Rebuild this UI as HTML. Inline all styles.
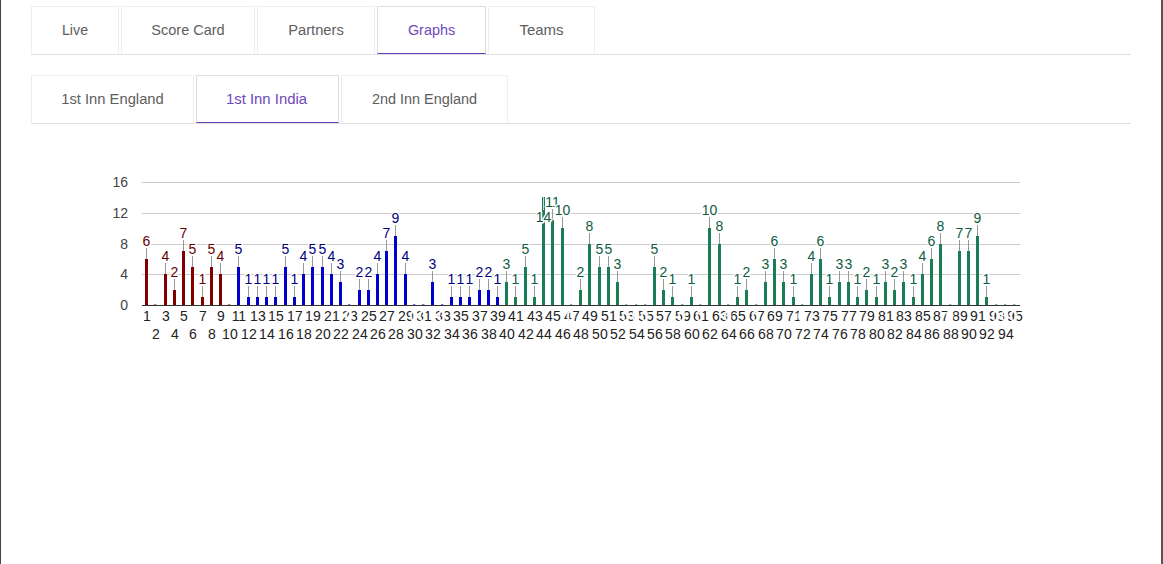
<!DOCTYPE html>
<html><head><meta charset="utf-8"><title>Graphs</title>
<style>
html,body{margin:0;padding:0;background:#fff;}
body{width:1163px;height:564px;position:relative;overflow:hidden;font-family:"Liberation Sans",sans-serif;}
.edgeL{position:absolute;left:0;top:0;width:1px;height:564px;background:#444;}
.edgeR{position:absolute;left:1161px;top:0;width:2px;height:564px;background:#555;}
.nav{position:absolute;left:31px;width:1100px;height:48px;border-bottom:1px solid #dfdfdf;}
.nav1{top:6px;}
.nav2{top:75px;}
.tab{position:absolute;top:0;height:46px;border:1px solid #eeeeee;border-bottom-color:transparent;box-sizing:content-box;color:#5e5e5e;font-size:14.2px;line-height:46px;text-align:center;white-space:nowrap;}
.tab.act{color:#7047bd;border-color:#dddddd;border-bottom:1px solid #6a3fb5;}
</style></head><body>
<div class="edgeL"></div><div class="edgeR"></div>
<div class="nav nav1">
<div class="tab" style="left:0;width:86px;font-size:14.3px">Live</div>
<div class="tab" style="left:90px;width:132px;font-size:14.5px">Score Card</div>
<div class="tab" style="left:226px;width:116px;font-size:14.7px">Partners</div>
<div class="tab act" style="left:346px;width:107px;font-size:14.4px">Graphs</div>
<div class="tab" style="left:457px;width:105px;font-size:15px">Teams</div>
</div>
<div class="nav nav2">
<div class="tab" style="left:0;width:161px;font-size:14.75px">1st Inn England</div>
<div class="tab act" style="left:165px;width:139px;padding-right:2px;font-size:14.9px">1st Inn India</div>
<div class="tab" style="left:310px;width:165px;font-size:14.45px">2nd Inn England</div>
</div>
<svg width="1163" height="564" viewBox="0 0 1163 564" style="position:absolute;left:0;top:0" font-family="Liberation Sans, sans-serif" font-size="14">
<rect x="142" y="274" width="878" height="1" fill="#cccccc"/>
<rect x="142" y="244" width="878" height="1" fill="#cccccc"/>
<rect x="142" y="213" width="878" height="1" fill="#cccccc"/>
<rect x="142" y="182" width="878" height="1" fill="#cccccc"/>
<rect x="145" y="259" width="3" height="46" fill="#800000"/>
<rect x="154" y="304" width="2.4" height="1" fill="#800000" opacity="0.55"/>
<rect x="164" y="274" width="3" height="31" fill="#800000"/>
<rect x="173" y="290" width="3" height="15" fill="#800000"/>
<rect x="182" y="251" width="3" height="54" fill="#800000"/>
<rect x="191" y="267" width="3" height="38" fill="#800000"/>
<rect x="201" y="297" width="3" height="8" fill="#800000"/>
<rect x="210" y="267" width="3" height="38" fill="#800000"/>
<rect x="219" y="274" width="3" height="31" fill="#800000"/>
<rect x="228" y="304" width="2.4" height="1" fill="#800000" opacity="0.55"/>
<rect x="237" y="267" width="3" height="38" fill="#0000cd"/>
<rect x="247" y="297" width="3" height="8" fill="#0000cd"/>
<rect x="256" y="297" width="3" height="8" fill="#0000cd"/>
<rect x="265" y="297" width="3" height="8" fill="#0000cd"/>
<rect x="274" y="297" width="3" height="8" fill="#0000cd"/>
<rect x="284" y="267" width="3" height="38" fill="#0000cd"/>
<rect x="293" y="297" width="3" height="8" fill="#0000cd"/>
<rect x="302" y="274" width="3" height="31" fill="#0000cd"/>
<rect x="311" y="267" width="3" height="38" fill="#0000cd"/>
<rect x="321" y="267" width="3" height="38" fill="#0000cd"/>
<rect x="330" y="274" width="3" height="31" fill="#0000cd"/>
<rect x="339" y="282" width="3" height="23" fill="#0000cd"/>
<rect x="348" y="304" width="2.4" height="1" fill="#0000cd" opacity="0.55"/>
<rect x="358" y="290" width="3" height="15" fill="#0000cd"/>
<rect x="367" y="290" width="3" height="15" fill="#0000cd"/>
<rect x="376" y="274" width="3" height="31" fill="#0000cd"/>
<rect x="385" y="251" width="3" height="54" fill="#0000cd"/>
<rect x="394" y="236" width="3" height="69" fill="#0000cd"/>
<rect x="404" y="274" width="3" height="31" fill="#0000cd"/>
<rect x="413" y="304" width="2.4" height="1" fill="#0000cd" opacity="0.55"/>
<rect x="422" y="304" width="2.4" height="1" fill="#0000cd" opacity="0.55"/>
<rect x="431" y="282" width="3" height="23" fill="#0000cd"/>
<rect x="441" y="304" width="2.4" height="1" fill="#0000cd" opacity="0.55"/>
<rect x="450" y="297" width="3" height="8" fill="#0000cd"/>
<rect x="459" y="297" width="3" height="8" fill="#0000cd"/>
<rect x="468" y="297" width="3" height="8" fill="#0000cd"/>
<rect x="478" y="290" width="3" height="15" fill="#0000cd"/>
<rect x="487" y="290" width="3" height="15" fill="#0000cd"/>
<rect x="496" y="297" width="3" height="8" fill="#0000cd"/>
<rect x="505" y="282" width="3" height="23" fill="#1a7d55"/>
<rect x="514" y="297" width="3" height="8" fill="#1a7d55"/>
<rect x="524" y="267" width="3" height="38" fill="#1a7d55"/>
<rect x="533" y="297" width="3" height="8" fill="#1a7d55"/>
<rect x="542" y="197" width="3" height="108" fill="#1a7d55"/>
<rect x="551" y="220" width="3" height="85" fill="#1a7d55"/>
<rect x="561" y="228" width="3" height="77" fill="#1a7d55"/>
<rect x="570" y="304" width="2.4" height="1" fill="#1a7d55" opacity="0.55"/>
<rect x="579" y="290" width="3" height="15" fill="#1a7d55"/>
<rect x="588" y="244" width="3" height="61" fill="#1a7d55"/>
<rect x="598" y="267" width="3" height="38" fill="#1a7d55"/>
<rect x="607" y="267" width="3" height="38" fill="#1a7d55"/>
<rect x="616" y="282" width="3" height="23" fill="#1a7d55"/>
<rect x="625" y="304" width="2.4" height="1" fill="#1a7d55" opacity="0.55"/>
<rect x="635" y="304" width="2.4" height="1" fill="#1a7d55" opacity="0.55"/>
<rect x="644" y="304" width="2.4" height="1" fill="#1a7d55" opacity="0.55"/>
<rect x="653" y="267" width="3" height="38" fill="#1a7d55"/>
<rect x="662" y="290" width="3" height="15" fill="#1a7d55"/>
<rect x="671" y="297" width="3" height="8" fill="#1a7d55"/>
<rect x="681" y="304" width="2.4" height="1" fill="#1a7d55" opacity="0.55"/>
<rect x="690" y="297" width="3" height="8" fill="#1a7d55"/>
<rect x="699" y="304" width="2.4" height="1" fill="#1a7d55" opacity="0.55"/>
<rect x="708" y="228" width="3" height="77" fill="#1a7d55"/>
<rect x="718" y="244" width="3" height="61" fill="#1a7d55"/>
<rect x="727" y="304" width="2.4" height="1" fill="#1a7d55" opacity="0.55"/>
<rect x="736" y="297" width="3" height="8" fill="#1a7d55"/>
<rect x="745" y="290" width="3" height="15" fill="#1a7d55"/>
<rect x="755" y="304" width="2.4" height="1" fill="#1a7d55" opacity="0.55"/>
<rect x="764" y="282" width="3" height="23" fill="#1a7d55"/>
<rect x="773" y="259" width="3" height="46" fill="#1a7d55"/>
<rect x="782" y="282" width="3" height="23" fill="#1a7d55"/>
<rect x="792" y="297" width="3" height="8" fill="#1a7d55"/>
<rect x="801" y="304" width="2.4" height="1" fill="#1a7d55" opacity="0.55"/>
<rect x="810" y="274" width="3" height="31" fill="#1a7d55"/>
<rect x="819" y="259" width="3" height="46" fill="#1a7d55"/>
<rect x="828" y="297" width="3" height="8" fill="#1a7d55"/>
<rect x="838" y="282" width="3" height="23" fill="#1a7d55"/>
<rect x="847" y="282" width="3" height="23" fill="#1a7d55"/>
<rect x="856" y="297" width="3" height="8" fill="#1a7d55"/>
<rect x="865" y="290" width="3" height="15" fill="#1a7d55"/>
<rect x="875" y="297" width="3" height="8" fill="#1a7d55"/>
<rect x="884" y="282" width="3" height="23" fill="#1a7d55"/>
<rect x="893" y="290" width="3" height="15" fill="#1a7d55"/>
<rect x="902" y="282" width="3" height="23" fill="#1a7d55"/>
<rect x="912" y="297" width="3" height="8" fill="#1a7d55"/>
<rect x="921" y="274" width="3" height="31" fill="#1a7d55"/>
<rect x="930" y="259" width="3" height="46" fill="#1a7d55"/>
<rect x="939" y="244" width="3" height="61" fill="#1a7d55"/>
<rect x="949" y="304" width="2.4" height="1" fill="#1a7d55" opacity="0.55"/>
<rect x="958" y="251" width="3" height="54" fill="#1a7d55"/>
<rect x="967" y="251" width="3" height="54" fill="#1a7d55"/>
<rect x="976" y="236" width="3" height="69" fill="#1a7d55"/>
<rect x="985" y="297" width="3" height="8" fill="#1a7d55"/>
<rect x="995" y="304" width="2.4" height="1" fill="#1a7d55" opacity="0.55"/>
<rect x="1004" y="304" width="2.4" height="1" fill="#1a7d55" opacity="0.55"/>
<rect x="1013" y="304" width="2.4" height="1" fill="#1a7d55" opacity="0.55"/>
<rect x="142" y="305" width="878" height="1" fill="#333333"/>
<rect x="146" y="248" width="1" height="11" fill="#999999"/>
<rect x="165" y="263" width="1" height="11" fill="#999999"/>
<rect x="174" y="279" width="1" height="11" fill="#999999"/>
<rect x="183" y="240" width="1" height="11" fill="#999999"/>
<rect x="192" y="256" width="1" height="11" fill="#999999"/>
<rect x="202" y="286" width="1" height="11" fill="#999999"/>
<rect x="211" y="256" width="1" height="11" fill="#999999"/>
<rect x="220" y="263" width="1" height="11" fill="#999999"/>
<rect x="238" y="256" width="1" height="11" fill="#999999"/>
<rect x="248" y="286" width="1" height="11" fill="#999999"/>
<rect x="257" y="286" width="1" height="11" fill="#999999"/>
<rect x="266" y="286" width="1" height="11" fill="#999999"/>
<rect x="275" y="286" width="1" height="11" fill="#999999"/>
<rect x="285" y="256" width="1" height="11" fill="#999999"/>
<rect x="294" y="286" width="1" height="11" fill="#999999"/>
<rect x="303" y="263" width="1" height="11" fill="#999999"/>
<rect x="312" y="256" width="1" height="11" fill="#999999"/>
<rect x="322" y="256" width="1" height="11" fill="#999999"/>
<rect x="331" y="263" width="1" height="11" fill="#999999"/>
<rect x="340" y="271" width="1" height="11" fill="#999999"/>
<rect x="359" y="279" width="1" height="11" fill="#999999"/>
<rect x="368" y="279" width="1" height="11" fill="#999999"/>
<rect x="377" y="263" width="1" height="11" fill="#999999"/>
<rect x="386" y="240" width="1" height="11" fill="#999999"/>
<rect x="395" y="225" width="1" height="11" fill="#999999"/>
<rect x="405" y="263" width="1" height="11" fill="#999999"/>
<rect x="432" y="271" width="1" height="11" fill="#999999"/>
<rect x="451" y="286" width="1" height="11" fill="#999999"/>
<rect x="460" y="286" width="1" height="11" fill="#999999"/>
<rect x="469" y="286" width="1" height="11" fill="#999999"/>
<rect x="479" y="279" width="1" height="11" fill="#999999"/>
<rect x="488" y="279" width="1" height="11" fill="#999999"/>
<rect x="497" y="286" width="1" height="11" fill="#999999"/>
<rect x="506" y="271" width="1" height="11" fill="#999999"/>
<rect x="515" y="286" width="1" height="11" fill="#999999"/>
<rect x="525" y="256" width="1" height="11" fill="#999999"/>
<rect x="534" y="286" width="1" height="11" fill="#999999"/>
<rect x="543" y="197" width="1" height="13" fill="#bfe0d0"/>
<rect x="552" y="209" width="1" height="11" fill="#999999"/>
<rect x="562" y="217" width="1" height="11" fill="#999999"/>
<rect x="580" y="279" width="1" height="11" fill="#999999"/>
<rect x="589" y="233" width="1" height="11" fill="#999999"/>
<rect x="599" y="256" width="1" height="11" fill="#999999"/>
<rect x="608" y="256" width="1" height="11" fill="#999999"/>
<rect x="617" y="271" width="1" height="11" fill="#999999"/>
<rect x="654" y="256" width="1" height="11" fill="#999999"/>
<rect x="663" y="279" width="1" height="11" fill="#999999"/>
<rect x="672" y="286" width="1" height="11" fill="#999999"/>
<rect x="691" y="286" width="1" height="11" fill="#999999"/>
<rect x="709" y="217" width="1" height="11" fill="#999999"/>
<rect x="719" y="233" width="1" height="11" fill="#999999"/>
<rect x="737" y="286" width="1" height="11" fill="#999999"/>
<rect x="746" y="279" width="1" height="11" fill="#999999"/>
<rect x="765" y="271" width="1" height="11" fill="#999999"/>
<rect x="774" y="248" width="1" height="11" fill="#999999"/>
<rect x="783" y="271" width="1" height="11" fill="#999999"/>
<rect x="793" y="286" width="1" height="11" fill="#999999"/>
<rect x="811" y="263" width="1" height="11" fill="#999999"/>
<rect x="820" y="248" width="1" height="11" fill="#999999"/>
<rect x="829" y="286" width="1" height="11" fill="#999999"/>
<rect x="839" y="271" width="1" height="11" fill="#999999"/>
<rect x="848" y="271" width="1" height="11" fill="#999999"/>
<rect x="857" y="286" width="1" height="11" fill="#999999"/>
<rect x="866" y="279" width="1" height="11" fill="#999999"/>
<rect x="876" y="286" width="1" height="11" fill="#999999"/>
<rect x="885" y="271" width="1" height="11" fill="#999999"/>
<rect x="894" y="279" width="1" height="11" fill="#999999"/>
<rect x="903" y="271" width="1" height="11" fill="#999999"/>
<rect x="913" y="286" width="1" height="11" fill="#999999"/>
<rect x="922" y="263" width="1" height="11" fill="#999999"/>
<rect x="931" y="248" width="1" height="11" fill="#999999"/>
<rect x="940" y="233" width="1" height="11" fill="#999999"/>
<rect x="959" y="240" width="1" height="11" fill="#999999"/>
<rect x="968" y="240" width="1" height="11" fill="#999999"/>
<rect x="977" y="225" width="1" height="11" fill="#999999"/>
<rect x="986" y="286" width="1" height="11" fill="#999999"/>
<text x="146.5" y="246" text-anchor="middle" fill="#660000" stroke="#fff" stroke-width="3" paint-order="stroke" stroke-linejoin="round">6</text>
<text x="165.5" y="261" text-anchor="middle" fill="#660000" stroke="#fff" stroke-width="3" paint-order="stroke" stroke-linejoin="round">4</text>
<text x="174.5" y="277" text-anchor="middle" fill="#660000" stroke="#fff" stroke-width="3" paint-order="stroke" stroke-linejoin="round">2</text>
<text x="183.5" y="238" text-anchor="middle" fill="#660000" stroke="#fff" stroke-width="3" paint-order="stroke" stroke-linejoin="round">7</text>
<text x="192.5" y="254" text-anchor="middle" fill="#660000" stroke="#fff" stroke-width="3" paint-order="stroke" stroke-linejoin="round">5</text>
<text x="202.5" y="284" text-anchor="middle" fill="#660000" stroke="#fff" stroke-width="3" paint-order="stroke" stroke-linejoin="round">1</text>
<text x="211.5" y="254" text-anchor="middle" fill="#660000" stroke="#fff" stroke-width="3" paint-order="stroke" stroke-linejoin="round">5</text>
<text x="220.5" y="261" text-anchor="middle" fill="#660000" stroke="#fff" stroke-width="3" paint-order="stroke" stroke-linejoin="round">4</text>
<text x="238.5" y="254" text-anchor="middle" fill="#000080" stroke="#fff" stroke-width="3" paint-order="stroke" stroke-linejoin="round">5</text>
<text x="248.5" y="284" text-anchor="middle" fill="#000080" stroke="#fff" stroke-width="3" paint-order="stroke" stroke-linejoin="round">1</text>
<text x="257.5" y="284" text-anchor="middle" fill="#000080" stroke="#fff" stroke-width="3" paint-order="stroke" stroke-linejoin="round">1</text>
<text x="266.5" y="284" text-anchor="middle" fill="#000080" stroke="#fff" stroke-width="3" paint-order="stroke" stroke-linejoin="round">1</text>
<text x="275.5" y="284" text-anchor="middle" fill="#000080" stroke="#fff" stroke-width="3" paint-order="stroke" stroke-linejoin="round">1</text>
<text x="285.5" y="254" text-anchor="middle" fill="#000080" stroke="#fff" stroke-width="3" paint-order="stroke" stroke-linejoin="round">5</text>
<text x="294.5" y="284" text-anchor="middle" fill="#000080" stroke="#fff" stroke-width="3" paint-order="stroke" stroke-linejoin="round">1</text>
<text x="303.5" y="261" text-anchor="middle" fill="#000080" stroke="#fff" stroke-width="3" paint-order="stroke" stroke-linejoin="round">4</text>
<text x="312.5" y="254" text-anchor="middle" fill="#000080" stroke="#fff" stroke-width="3" paint-order="stroke" stroke-linejoin="round">5</text>
<text x="322.5" y="254" text-anchor="middle" fill="#000080" stroke="#fff" stroke-width="3" paint-order="stroke" stroke-linejoin="round">5</text>
<text x="331.5" y="261" text-anchor="middle" fill="#000080" stroke="#fff" stroke-width="3" paint-order="stroke" stroke-linejoin="round">4</text>
<text x="340.5" y="269" text-anchor="middle" fill="#000080" stroke="#fff" stroke-width="3" paint-order="stroke" stroke-linejoin="round">3</text>
<text x="359.5" y="277" text-anchor="middle" fill="#000080" stroke="#fff" stroke-width="3" paint-order="stroke" stroke-linejoin="round">2</text>
<text x="368.5" y="277" text-anchor="middle" fill="#000080" stroke="#fff" stroke-width="3" paint-order="stroke" stroke-linejoin="round">2</text>
<text x="377.5" y="261" text-anchor="middle" fill="#000080" stroke="#fff" stroke-width="3" paint-order="stroke" stroke-linejoin="round">4</text>
<text x="386.5" y="238" text-anchor="middle" fill="#000080" stroke="#fff" stroke-width="3" paint-order="stroke" stroke-linejoin="round">7</text>
<text x="395.5" y="223" text-anchor="middle" fill="#000080" stroke="#fff" stroke-width="3" paint-order="stroke" stroke-linejoin="round">9</text>
<text x="405.5" y="261" text-anchor="middle" fill="#000080" stroke="#fff" stroke-width="3" paint-order="stroke" stroke-linejoin="round">4</text>
<text x="432.5" y="269" text-anchor="middle" fill="#000080" stroke="#fff" stroke-width="3" paint-order="stroke" stroke-linejoin="round">3</text>
<text x="451.5" y="284" text-anchor="middle" fill="#000080" stroke="#fff" stroke-width="3" paint-order="stroke" stroke-linejoin="round">1</text>
<text x="460.5" y="284" text-anchor="middle" fill="#000080" stroke="#fff" stroke-width="3" paint-order="stroke" stroke-linejoin="round">1</text>
<text x="469.5" y="284" text-anchor="middle" fill="#000080" stroke="#fff" stroke-width="3" paint-order="stroke" stroke-linejoin="round">1</text>
<text x="479.5" y="277" text-anchor="middle" fill="#000080" stroke="#fff" stroke-width="3" paint-order="stroke" stroke-linejoin="round">2</text>
<text x="488.5" y="277" text-anchor="middle" fill="#000080" stroke="#fff" stroke-width="3" paint-order="stroke" stroke-linejoin="round">2</text>
<text x="497.5" y="284" text-anchor="middle" fill="#000080" stroke="#fff" stroke-width="3" paint-order="stroke" stroke-linejoin="round">1</text>
<text x="506.5" y="269" text-anchor="middle" fill="#0f5c42" stroke="#fff" stroke-width="3" paint-order="stroke" stroke-linejoin="round">3</text>
<text x="515.5" y="284" text-anchor="middle" fill="#0f5c42" stroke="#fff" stroke-width="3" paint-order="stroke" stroke-linejoin="round">1</text>
<text x="525.5" y="254" text-anchor="middle" fill="#0f5c42" stroke="#fff" stroke-width="3" paint-order="stroke" stroke-linejoin="round">5</text>
<text x="534.5" y="284" text-anchor="middle" fill="#0f5c42" stroke="#fff" stroke-width="3" paint-order="stroke" stroke-linejoin="round">1</text>
<text x="543.5" y="222" text-anchor="middle" fill="#0f5c42" stroke="#fff" stroke-width="3" paint-order="stroke" stroke-linejoin="round">14</text>
<text x="552.5" y="207" text-anchor="middle" fill="#0f5c42" stroke="#fff" stroke-width="3" paint-order="stroke" stroke-linejoin="round">11</text>
<text x="562.5" y="215" text-anchor="middle" fill="#0f5c42" stroke="#fff" stroke-width="3" paint-order="stroke" stroke-linejoin="round">10</text>
<text x="580.5" y="277" text-anchor="middle" fill="#0f5c42" stroke="#fff" stroke-width="3" paint-order="stroke" stroke-linejoin="round">2</text>
<text x="589.5" y="231" text-anchor="middle" fill="#0f5c42" stroke="#fff" stroke-width="3" paint-order="stroke" stroke-linejoin="round">8</text>
<text x="599.5" y="254" text-anchor="middle" fill="#0f5c42" stroke="#fff" stroke-width="3" paint-order="stroke" stroke-linejoin="round">5</text>
<text x="608.5" y="254" text-anchor="middle" fill="#0f5c42" stroke="#fff" stroke-width="3" paint-order="stroke" stroke-linejoin="round">5</text>
<text x="617.5" y="269" text-anchor="middle" fill="#0f5c42" stroke="#fff" stroke-width="3" paint-order="stroke" stroke-linejoin="round">3</text>
<text x="654.5" y="254" text-anchor="middle" fill="#0f5c42" stroke="#fff" stroke-width="3" paint-order="stroke" stroke-linejoin="round">5</text>
<text x="663.5" y="277" text-anchor="middle" fill="#0f5c42" stroke="#fff" stroke-width="3" paint-order="stroke" stroke-linejoin="round">2</text>
<text x="672.5" y="284" text-anchor="middle" fill="#0f5c42" stroke="#fff" stroke-width="3" paint-order="stroke" stroke-linejoin="round">1</text>
<text x="691.5" y="284" text-anchor="middle" fill="#0f5c42" stroke="#fff" stroke-width="3" paint-order="stroke" stroke-linejoin="round">1</text>
<text x="709.5" y="215" text-anchor="middle" fill="#0f5c42" stroke="#fff" stroke-width="3" paint-order="stroke" stroke-linejoin="round">10</text>
<text x="719.5" y="231" text-anchor="middle" fill="#0f5c42" stroke="#fff" stroke-width="3" paint-order="stroke" stroke-linejoin="round">8</text>
<text x="737.5" y="284" text-anchor="middle" fill="#0f5c42" stroke="#fff" stroke-width="3" paint-order="stroke" stroke-linejoin="round">1</text>
<text x="746.5" y="277" text-anchor="middle" fill="#0f5c42" stroke="#fff" stroke-width="3" paint-order="stroke" stroke-linejoin="round">2</text>
<text x="765.5" y="269" text-anchor="middle" fill="#0f5c42" stroke="#fff" stroke-width="3" paint-order="stroke" stroke-linejoin="round">3</text>
<text x="774.5" y="246" text-anchor="middle" fill="#0f5c42" stroke="#fff" stroke-width="3" paint-order="stroke" stroke-linejoin="round">6</text>
<text x="783.5" y="269" text-anchor="middle" fill="#0f5c42" stroke="#fff" stroke-width="3" paint-order="stroke" stroke-linejoin="round">3</text>
<text x="793.5" y="284" text-anchor="middle" fill="#0f5c42" stroke="#fff" stroke-width="3" paint-order="stroke" stroke-linejoin="round">1</text>
<text x="811.5" y="261" text-anchor="middle" fill="#0f5c42" stroke="#fff" stroke-width="3" paint-order="stroke" stroke-linejoin="round">4</text>
<text x="820.5" y="246" text-anchor="middle" fill="#0f5c42" stroke="#fff" stroke-width="3" paint-order="stroke" stroke-linejoin="round">6</text>
<text x="829.5" y="284" text-anchor="middle" fill="#0f5c42" stroke="#fff" stroke-width="3" paint-order="stroke" stroke-linejoin="round">1</text>
<text x="839.5" y="269" text-anchor="middle" fill="#0f5c42" stroke="#fff" stroke-width="3" paint-order="stroke" stroke-linejoin="round">3</text>
<text x="848.5" y="269" text-anchor="middle" fill="#0f5c42" stroke="#fff" stroke-width="3" paint-order="stroke" stroke-linejoin="round">3</text>
<text x="857.5" y="284" text-anchor="middle" fill="#0f5c42" stroke="#fff" stroke-width="3" paint-order="stroke" stroke-linejoin="round">1</text>
<text x="866.5" y="277" text-anchor="middle" fill="#0f5c42" stroke="#fff" stroke-width="3" paint-order="stroke" stroke-linejoin="round">2</text>
<text x="876.5" y="284" text-anchor="middle" fill="#0f5c42" stroke="#fff" stroke-width="3" paint-order="stroke" stroke-linejoin="round">1</text>
<text x="885.5" y="269" text-anchor="middle" fill="#0f5c42" stroke="#fff" stroke-width="3" paint-order="stroke" stroke-linejoin="round">3</text>
<text x="894.5" y="277" text-anchor="middle" fill="#0f5c42" stroke="#fff" stroke-width="3" paint-order="stroke" stroke-linejoin="round">2</text>
<text x="903.5" y="269" text-anchor="middle" fill="#0f5c42" stroke="#fff" stroke-width="3" paint-order="stroke" stroke-linejoin="round">3</text>
<text x="913.5" y="284" text-anchor="middle" fill="#0f5c42" stroke="#fff" stroke-width="3" paint-order="stroke" stroke-linejoin="round">1</text>
<text x="922.5" y="261" text-anchor="middle" fill="#0f5c42" stroke="#fff" stroke-width="3" paint-order="stroke" stroke-linejoin="round">4</text>
<text x="931.5" y="246" text-anchor="middle" fill="#0f5c42" stroke="#fff" stroke-width="3" paint-order="stroke" stroke-linejoin="round">6</text>
<text x="940.5" y="231" text-anchor="middle" fill="#0f5c42" stroke="#fff" stroke-width="3" paint-order="stroke" stroke-linejoin="round">8</text>
<text x="959.5" y="238" text-anchor="middle" fill="#0f5c42" stroke="#fff" stroke-width="3" paint-order="stroke" stroke-linejoin="round">7</text>
<text x="968.5" y="238" text-anchor="middle" fill="#0f5c42" stroke="#fff" stroke-width="3" paint-order="stroke" stroke-linejoin="round">7</text>
<text x="977.5" y="223" text-anchor="middle" fill="#0f5c42" stroke="#fff" stroke-width="3" paint-order="stroke" stroke-linejoin="round">9</text>
<text x="986.5" y="284" text-anchor="middle" fill="#0f5c42" stroke="#fff" stroke-width="3" paint-order="stroke" stroke-linejoin="round">1</text>
<text x="128" y="310" text-anchor="end" fill="#444444">0</text>
<text x="128" y="279" text-anchor="end" fill="#444444">4</text>
<text x="128" y="249" text-anchor="end" fill="#444444">8</text>
<text x="128" y="218" text-anchor="end" fill="#444444">12</text>
<text x="128" y="187" text-anchor="end" fill="#444444">16</text>
<text x="146.9" y="321" text-anchor="middle" fill="#222222">1</text>
<text x="155.9" y="339" text-anchor="middle" fill="#222222">2</text>
<text x="165.9" y="321" text-anchor="middle" fill="#222222">3</text>
<text x="174.9" y="339" text-anchor="middle" fill="#222222">4</text>
<text x="183.9" y="321" text-anchor="middle" fill="#222222">5</text>
<text x="192.9" y="339" text-anchor="middle" fill="#222222">6</text>
<text x="202.9" y="321" text-anchor="middle" fill="#222222">7</text>
<text x="211.9" y="339" text-anchor="middle" fill="#222222">8</text>
<text x="220.9" y="321" text-anchor="middle" fill="#222222">9</text>
<text x="229.9" y="339" text-anchor="middle" fill="#222222">10</text>
<text x="238.9" y="321" text-anchor="middle" fill="#222222">11</text>
<text x="248.9" y="339" text-anchor="middle" fill="#222222">12</text>
<text x="257.9" y="321" text-anchor="middle" fill="#222222">13</text>
<text x="266.9" y="339" text-anchor="middle" fill="#222222">14</text>
<text x="275.9" y="321" text-anchor="middle" fill="#222222">15</text>
<text x="285.9" y="339" text-anchor="middle" fill="#222222">16</text>
<text x="294.9" y="321" text-anchor="middle" fill="#222222">17</text>
<text x="303.9" y="339" text-anchor="middle" fill="#222222">18</text>
<text x="312.9" y="321" text-anchor="middle" fill="#222222">19</text>
<text x="322.9" y="339" text-anchor="middle" fill="#222222">20</text>
<text x="331.9" y="321" text-anchor="middle" fill="#222222">21</text>
<text x="340.9" y="339" text-anchor="middle" fill="#222222">22</text>
<text x="349.9" y="321" text-anchor="middle" fill="#222222">23</text>
<text x="359.9" y="339" text-anchor="middle" fill="#222222">24</text>
<text x="368.9" y="321" text-anchor="middle" fill="#222222">25</text>
<text x="377.9" y="339" text-anchor="middle" fill="#222222">26</text>
<text x="386.9" y="321" text-anchor="middle" fill="#222222">27</text>
<text x="395.9" y="339" text-anchor="middle" fill="#222222">28</text>
<text x="405.9" y="321" text-anchor="middle" fill="#222222">29</text>
<text x="414.9" y="339" text-anchor="middle" fill="#222222">30</text>
<text x="423.9" y="321" text-anchor="middle" fill="#222222">31</text>
<text x="432.9" y="339" text-anchor="middle" fill="#222222">32</text>
<text x="442.9" y="321" text-anchor="middle" fill="#222222">33</text>
<text x="451.9" y="339" text-anchor="middle" fill="#222222">34</text>
<text x="460.9" y="321" text-anchor="middle" fill="#222222">35</text>
<text x="469.9" y="339" text-anchor="middle" fill="#222222">36</text>
<text x="479.9" y="321" text-anchor="middle" fill="#222222">37</text>
<text x="488.9" y="339" text-anchor="middle" fill="#222222">38</text>
<text x="497.9" y="321" text-anchor="middle" fill="#222222">39</text>
<text x="506.9" y="339" text-anchor="middle" fill="#222222">40</text>
<text x="515.9" y="321" text-anchor="middle" fill="#222222">41</text>
<text x="525.9" y="339" text-anchor="middle" fill="#222222">42</text>
<text x="534.9" y="321" text-anchor="middle" fill="#222222">43</text>
<text x="543.9" y="339" text-anchor="middle" fill="#222222">44</text>
<text x="552.9" y="321" text-anchor="middle" fill="#222222">45</text>
<text x="562.9" y="339" text-anchor="middle" fill="#222222">46</text>
<text x="571.9" y="321" text-anchor="middle" fill="#222222">47</text>
<text x="580.9" y="339" text-anchor="middle" fill="#222222">48</text>
<text x="589.9" y="321" text-anchor="middle" fill="#222222">49</text>
<text x="599.9" y="339" text-anchor="middle" fill="#222222">50</text>
<text x="608.9" y="321" text-anchor="middle" fill="#222222">51</text>
<text x="617.9" y="339" text-anchor="middle" fill="#222222">52</text>
<text x="626.9" y="321" text-anchor="middle" fill="#222222">53</text>
<text x="636.9" y="339" text-anchor="middle" fill="#222222">54</text>
<text x="645.9" y="321" text-anchor="middle" fill="#222222">55</text>
<text x="654.9" y="339" text-anchor="middle" fill="#222222">56</text>
<text x="663.9" y="321" text-anchor="middle" fill="#222222">57</text>
<text x="672.9" y="339" text-anchor="middle" fill="#222222">58</text>
<text x="682.9" y="321" text-anchor="middle" fill="#222222">59</text>
<text x="691.9" y="339" text-anchor="middle" fill="#222222">60</text>
<text x="700.9" y="321" text-anchor="middle" fill="#222222">61</text>
<text x="709.9" y="339" text-anchor="middle" fill="#222222">62</text>
<text x="719.9" y="321" text-anchor="middle" fill="#222222">63</text>
<text x="728.9" y="339" text-anchor="middle" fill="#222222">64</text>
<text x="737.9" y="321" text-anchor="middle" fill="#222222">65</text>
<text x="746.9" y="339" text-anchor="middle" fill="#222222">66</text>
<text x="756.9" y="321" text-anchor="middle" fill="#222222">67</text>
<text x="765.9" y="339" text-anchor="middle" fill="#222222">68</text>
<text x="774.9" y="321" text-anchor="middle" fill="#222222">69</text>
<text x="783.9" y="339" text-anchor="middle" fill="#222222">70</text>
<text x="793.9" y="321" text-anchor="middle" fill="#222222">71</text>
<text x="802.9" y="339" text-anchor="middle" fill="#222222">72</text>
<text x="811.9" y="321" text-anchor="middle" fill="#222222">73</text>
<text x="820.9" y="339" text-anchor="middle" fill="#222222">74</text>
<text x="829.9" y="321" text-anchor="middle" fill="#222222">75</text>
<text x="839.9" y="339" text-anchor="middle" fill="#222222">76</text>
<text x="848.9" y="321" text-anchor="middle" fill="#222222">77</text>
<text x="857.9" y="339" text-anchor="middle" fill="#222222">78</text>
<text x="866.9" y="321" text-anchor="middle" fill="#222222">79</text>
<text x="876.9" y="339" text-anchor="middle" fill="#222222">80</text>
<text x="885.9" y="321" text-anchor="middle" fill="#222222">81</text>
<text x="894.9" y="339" text-anchor="middle" fill="#222222">82</text>
<text x="903.9" y="321" text-anchor="middle" fill="#222222">83</text>
<text x="913.9" y="339" text-anchor="middle" fill="#222222">84</text>
<text x="922.9" y="321" text-anchor="middle" fill="#222222">85</text>
<text x="931.9" y="339" text-anchor="middle" fill="#222222">86</text>
<text x="940.9" y="321" text-anchor="middle" fill="#222222">87</text>
<text x="950.9" y="339" text-anchor="middle" fill="#222222">88</text>
<text x="959.9" y="321" text-anchor="middle" fill="#222222">89</text>
<text x="968.9" y="339" text-anchor="middle" fill="#222222">90</text>
<text x="977.9" y="321" text-anchor="middle" fill="#222222">91</text>
<text x="986.9" y="339" text-anchor="middle" fill="#222222">92</text>
<text x="996.9" y="321" text-anchor="middle" fill="#222222">93</text>
<text x="1005.9" y="339" text-anchor="middle" fill="#222222">94</text>
<text x="1014.9" y="321" text-anchor="middle" fill="#222222">95</text>
<text x="154.6" y="321" text-anchor="middle" fill="#fff" stroke="#fff" stroke-width="0.5">0</text>
<text x="228.6" y="321" text-anchor="middle" fill="#fff" stroke="#fff" stroke-width="0.5">0</text>
<text x="348.6" y="321" text-anchor="middle" fill="#fff" stroke="#fff" stroke-width="0.5">0</text>
<text x="413.6" y="321" text-anchor="middle" fill="#fff" stroke="#fff" stroke-width="0.5">0</text>
<text x="422.6" y="321" text-anchor="middle" fill="#fff" stroke="#fff" stroke-width="0.5">0</text>
<text x="441.6" y="321" text-anchor="middle" fill="#fff" stroke="#fff" stroke-width="0.5">0</text>
<text x="570.6" y="321" text-anchor="middle" fill="#fff" stroke="#fff" stroke-width="0.5">0</text>
<text x="625.6" y="321" text-anchor="middle" fill="#fff" stroke="#fff" stroke-width="0.5">0</text>
<text x="635.6" y="321" text-anchor="middle" fill="#fff" stroke="#fff" stroke-width="0.5">0</text>
<text x="644.6" y="321" text-anchor="middle" fill="#fff" stroke="#fff" stroke-width="0.5">0</text>
<text x="681.6" y="321" text-anchor="middle" fill="#fff" stroke="#fff" stroke-width="0.5">0</text>
<text x="699.6" y="321" text-anchor="middle" fill="#fff" stroke="#fff" stroke-width="0.5">0</text>
<text x="727.6" y="321" text-anchor="middle" fill="#fff" stroke="#fff" stroke-width="0.5">0</text>
<text x="755.6" y="321" text-anchor="middle" fill="#fff" stroke="#fff" stroke-width="0.5">0</text>
<text x="801.6" y="321" text-anchor="middle" fill="#fff" stroke="#fff" stroke-width="0.5">0</text>
<text x="949.6" y="321" text-anchor="middle" fill="#fff" stroke="#fff" stroke-width="0.5">0</text>
<text x="995.6" y="321" text-anchor="middle" fill="#fff" stroke="#fff" stroke-width="0.5">0</text>
<text x="1004.6" y="321" text-anchor="middle" fill="#fff" stroke="#fff" stroke-width="0.5">0</text>
<text x="1013.6" y="321" text-anchor="middle" fill="#fff" stroke="#fff" stroke-width="0.5">0</text>
</svg>
</body></html>
